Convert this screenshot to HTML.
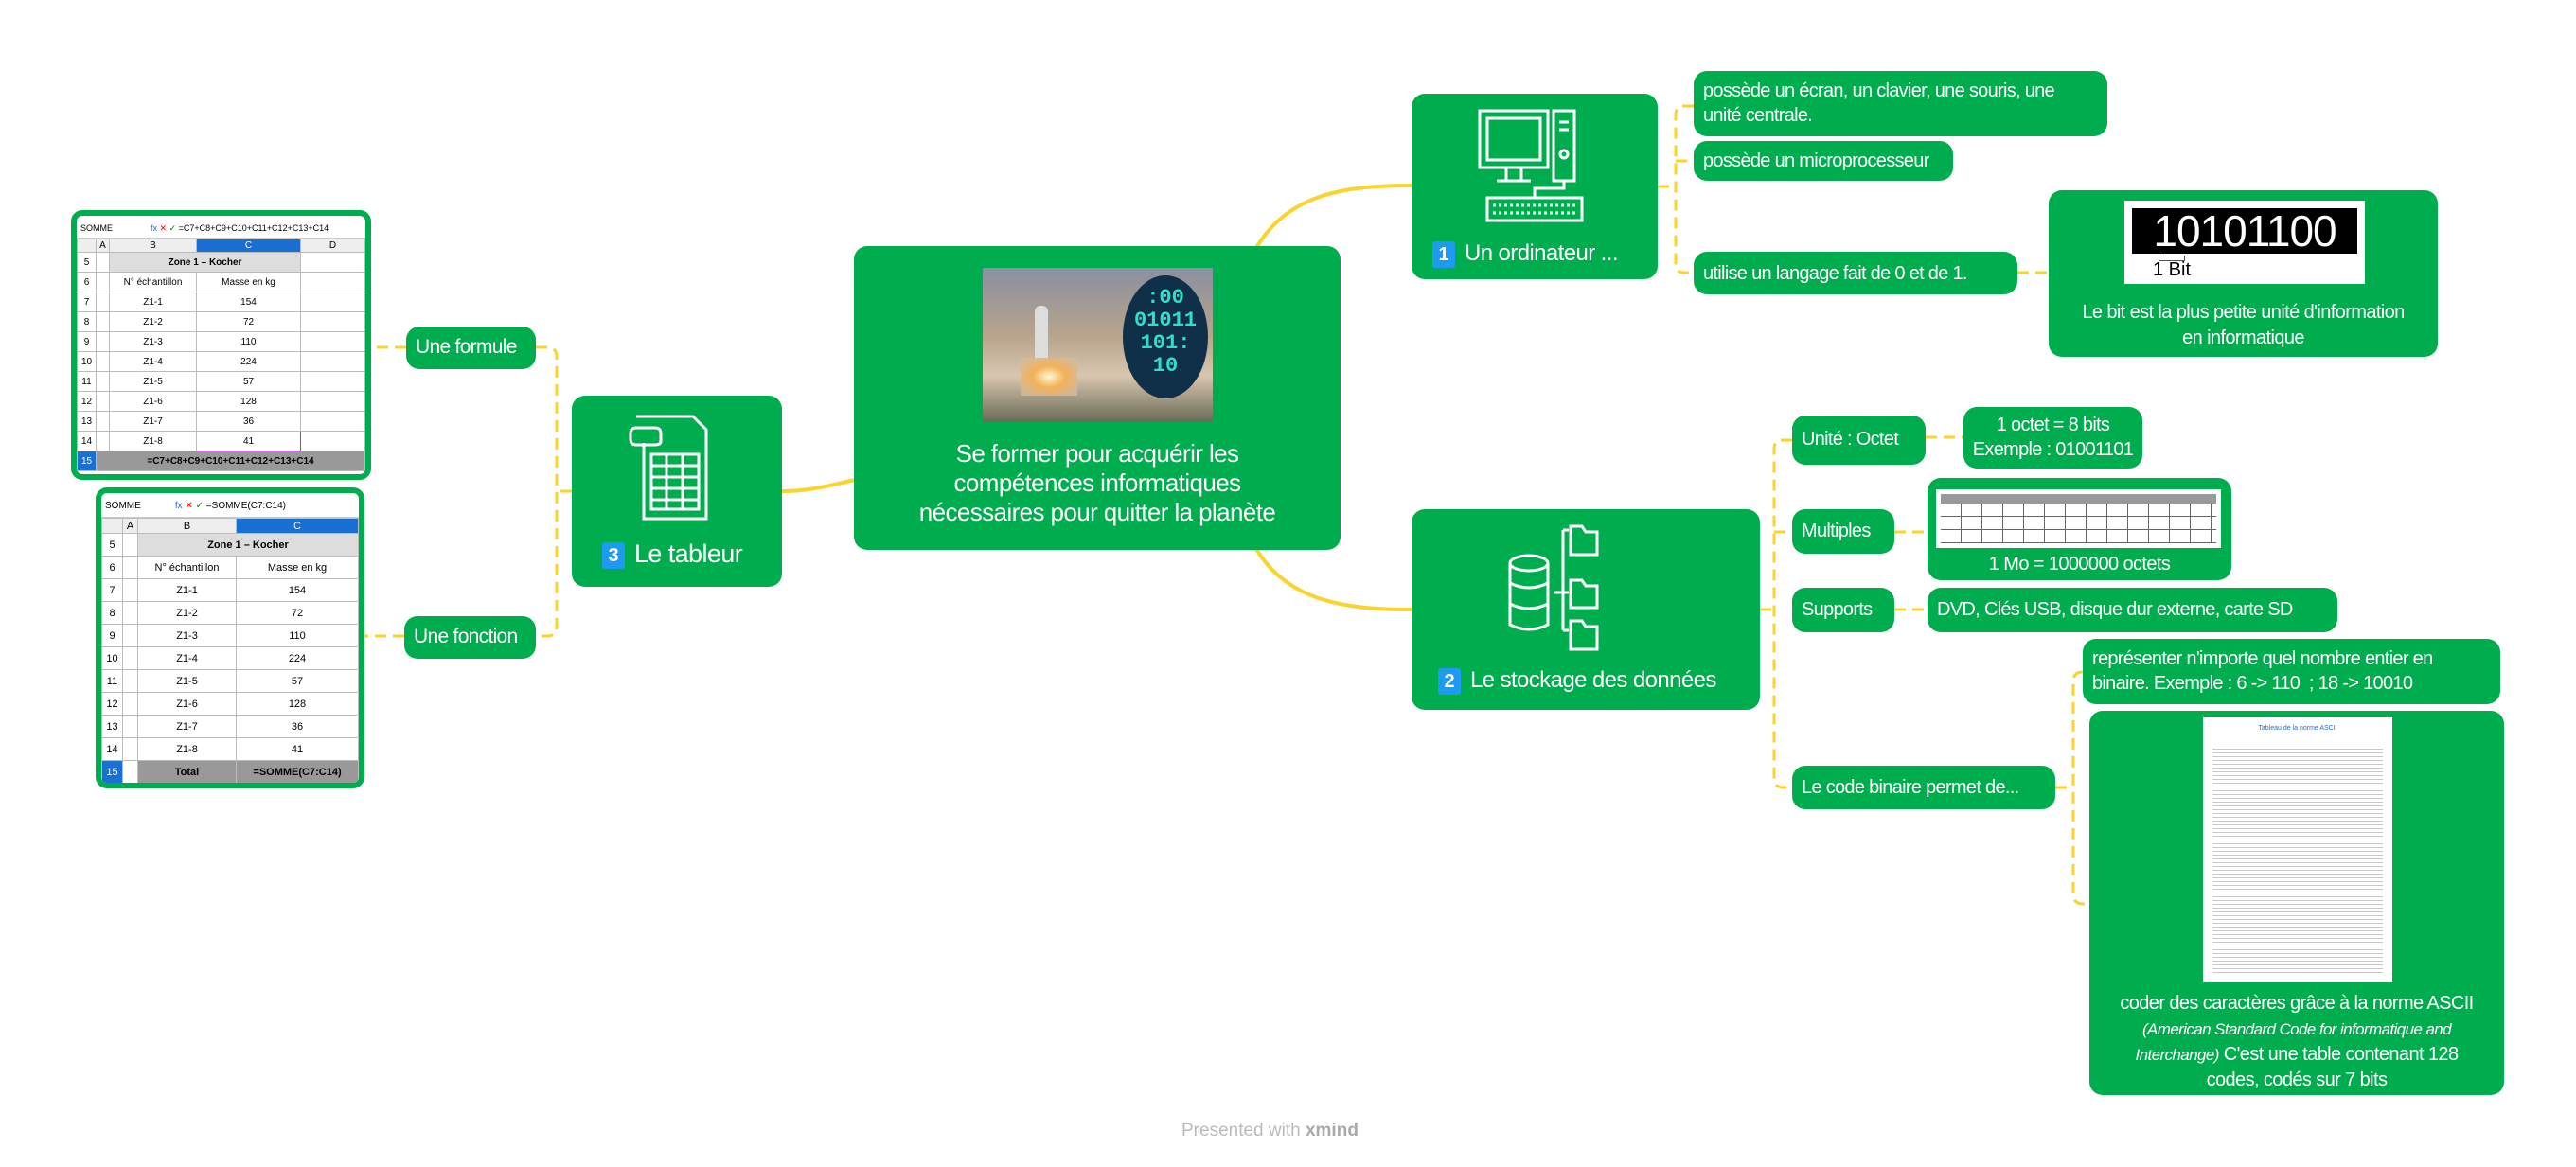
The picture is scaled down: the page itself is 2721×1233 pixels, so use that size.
<!DOCTYPE html>
<html><head><meta charset="utf-8"><style>
*{box-sizing:border-box;margin:0;padding:0}
body{width:2721px;height:1233px;background:#fff;position:relative;overflow:hidden;font-family:"Liberation Sans",sans-serif;}
.n{position:absolute;background:#00ad4e;border-radius:14px;color:#fff;}
.t{font-size:20px;line-height:26px;padding:8px 10px;letter-spacing:-0.7px}
.nw{white-space:nowrap}
.c{text-align:center}
.badge{display:inline-block;background:#1e9bf0;color:#fff;font-size:20px;width:24px;height:28px;line-height:28px;text-align:center;border-radius:3px;margin-right:10px;vertical-align:middle;font-weight:bold;letter-spacing:0}
.ss{position:absolute;border:6px solid #00ad4e;border-radius:12px;background:#fff;overflow:hidden;font-size:11px;color:#000}
.ss table{border-collapse:collapse;width:100%}
.ss td{border:1px solid #bbb;text-align:center;padding:0}
</style></head><body>

<svg width="2721" height="1233" style="position:absolute;left:0;top:0">
<g fill="none" stroke="#fcd32c" stroke-width="4">
<path d="M1327 262 C1360 205,1420 196,1491 196"/>
<path d="M1327 580 C1360 635,1420 644,1491 644"/>
<path d="M902 507 C870 515,850 519,826 519"/>
</g>
<g fill="none" stroke="#fcd32c" stroke-width="3" stroke-dasharray="12 7">
<path d="M1751 197 H1770 M1789 112 H1778 Q1770 112 1770 122 V280 Q1770 288 1780 288 H1789 M1770 170 H1789"/>
<path d="M2131 288 H2164"/>
<path d="M1859 644 H1874 M1893 465 H1882 Q1874 465 1874 475 V822 Q1874 832 1884 832 H1893 M1874 562 H1893"/>
<path d="M2034 462 H2074 M2001 562 H2036 M2001 644 H2036"/>
<path d="M2171 832 H2190 M2200 710 Q2190 710 2190 720 V945 Q2190 955 2200 955 H2207"/>
<path d="M604 519 H588 M566 367 H578 Q588 367 588 377 V662 Q588 672 578 672 H566"/>
<path d="M429 367 H392 M427 672 H385"/>
</g>
</svg>

<!-- central -->
<div class="n" style="left:902px;top:260px;width:514px;height:321px">
 <div style="position:absolute;left:136px;top:23px;width:243px;height:163px;background:linear-gradient(#8a8fa0,#b9a58c 45%,#d9c6b0 70%,#6a6a55);overflow:hidden">
  <div style="position:absolute;left:55px;top:40px;width:14px;height:70px;background:#ddd;border-radius:6px 6px 0 0"></div>
  <div style="position:absolute;left:40px;top:95px;width:60px;height:40px;background:radial-gradient(#fff8d0,#f3b15a 40%,rgba(200,190,180,0.8))"></div>
  <div style="position:absolute;left:148px;top:8px;width:90px;height:130px;border-radius:50%;background:#10304a;color:#2fe0c8;font:bold 22px 'Liberation Mono',monospace;line-height:24px;text-align:center;padding-top:12px">:00<br>01011<br>101:<br>10</div>
 </div>
 <div class="c" style="position:absolute;left:0;top:204px;width:100%;font-size:26px;line-height:31px;letter-spacing:-0.6px">Se former pour acquérir les<br>compétences informatiques<br>nécessaires pour quitter la planète</div>
</div>

<!-- node 1 -->
<div class="n" style="left:1491px;top:99px;width:260px;height:196px">
 <svg width="260" height="196" style="position:absolute;left:0;top:0" fill="none" stroke="#fff" stroke-width="3">
  <rect x="72" y="18" width="72" height="60"/><rect x="80" y="26" width="56" height="44"/>
  <path d="M100 78 V92 M116 78 V92 M90 92 H126"/>
  <rect x="150" y="18" width="22" height="74"/><path d="M156 30 H166 M156 38 H166"/><circle cx="161" cy="64" r="4"/>
  <path d="M161 92 V100 H130 V110"/>
  <rect x="80" y="110" width="100" height="24"/><path d="M86 118 H174 M86 126 H174" stroke-dasharray="3 3"/>
 </svg>
 <div style="position:absolute;left:22px;top:155px;font-size:24px;white-space:nowrap;letter-spacing:-0.6px"><span class="badge">1</span>Un ordinateur ...</div>
</div>
<div class="n t" style="left:1789px;top:75px;width:437px;height:69px;padding-right:24px">possède un écran, un clavier, une souris, une unité centrale.</div>
<div class="n t nw" style="left:1789px;top:149px;width:274px;height:42px">possède un microprocesseur</div>
<div class="n t nw" style="left:1789px;top:266px;width:342px;height:45px;padding-top:10px">utilise un langage fait de 0 et de 1.</div>
<div class="n" style="left:2164px;top:201px;width:411px;height:176px">
 <div style="position:absolute;left:80px;top:11px;width:254px;height:88px;background:#fff">
  <div style="position:absolute;left:8px;top:8px;width:238px;height:48px;background:#000;color:#fff;font:46px/48px 'Liberation Sans',sans-serif;letter-spacing:-1px;text-align:center;white-space:nowrap">10101100</div>
  <div style="position:absolute;left:36px;top:58px;width:28px;height:6px;border:1px solid #555;border-top:none"></div>
  <div style="position:absolute;left:30px;top:62px;font-size:20px;color:#000">1 Bit</div>
 </div>
 <div class="c" style="position:absolute;top:116px;width:100%;font-size:20px;line-height:27px;letter-spacing:-0.6px">Le bit est la plus petite unité d'information<br>en informatique</div>
</div>

<!-- node 2 -->
<div class="n" style="left:1491px;top:538px;width:368px;height:212px">
 <svg width="368" height="212" style="position:absolute;left:0;top:0" fill="none" stroke="#fff" stroke-width="3">
  <ellipse cx="124" cy="57" rx="20" ry="8"/><path d="M104 57 V122 Q124 132 144 122 V57 M104 78 Q124 88 144 78 M104 100 Q124 110 144 100"/>
  <path d="M150 88 H160 M160 22 V128 M160 22 H166 M160 88 H166 M160 128 H166"/>
  <path d="M168 18 H180 L184 24 H196 V48 H168 Z M168 75 H180 L184 81 H196 V104 H168 Z M168 118 H180 L184 124 H196 V148 H168 Z"/>
 </svg>
 <div style="position:absolute;left:28px;top:167px;font-size:24px;white-space:nowrap;letter-spacing:-0.6px"><span class="badge">2</span>Le stockage des données</div>
</div>
<div class="n t nw" style="left:1893px;top:439px;width:141px;height:52px;padding-top:12px">Unité : Octet</div>
<div class="n t c nw" style="left:2074px;top:430px;width:189px;height:65px;padding:6px 4px">1 octet = 8 bits<br>Exemple : 01001101</div>
<div class="n t nw" style="left:1893px;top:538px;width:108px;height:47px;padding-top:10px">Multiples</div>
<div class="n" style="left:2036px;top:505px;width:321px;height:108px">
 <div style="position:absolute;left:9px;top:12px;width:301px;height:62px;background:#fff;padding:5px">
  <div style="height:10px;background:#999"></div>
  <div style="height:42px;background:repeating-linear-gradient(90deg,transparent 0 21px,#666 21px 22px),repeating-linear-gradient(transparent 0 13px,#666 13px 14px)"></div>
 </div>
 <div class="c nw" style="position:absolute;top:80px;width:100%;font-size:20px;letter-spacing:-0.6px">1 Mo = 1000000 octets</div>
</div>
<div class="n t nw" style="left:1893px;top:621px;width:108px;height:47px;padding-top:10px">Supports</div>
<div class="n t nw" style="left:2036px;top:621px;width:433px;height:47px;padding-top:10px">DVD, Clés USB, disque dur externe, carte SD</div>
<div class="n t nw" style="left:1893px;top:809px;width:278px;height:46px;padding-top:10px">Le code binaire permet de...</div>
<div class="n t" style="left:2200px;top:675px;width:441px;height:69px">représenter n'importe quel nombre entier en binaire. Exemple : 6 -&gt; 110 &nbsp;; 18 -&gt; 10010</div>
<div class="n" style="left:2207px;top:751px;width:438px;height:406px">
 <div style="position:absolute;left:120px;top:7px;width:200px;height:280px;background:#fff;">
  <div style="color:#1e6fd0;font-size:7px;text-align:center;margin-top:8px">Tableau de la norme ASCII</div>
  <div style="position:absolute;left:10px;top:30px;width:180px;height:240px;background:repeating-linear-gradient(transparent 0 3px,#9bb 3px 4px);opacity:.7"></div>
 </div>
 <div class="c" style="position:absolute;top:296px;width:100%;font-size:20px;line-height:27px;letter-spacing:-0.6px">coder des caractères grâce à la norme ASCII<br><i style="font-size:17px">(American Standard Code for informatique and<br>Interchange)</i> C'est une table contenant 128<br>codes, codés sur 7 bits</div>
</div>

<!-- node 3 -->
<div class="n" style="left:604px;top:418px;width:222px;height:202px">
 <svg width="222" height="202" style="position:absolute;left:0;top:0" fill="none" stroke="#fff" stroke-width="3">
  <path d="M68 22 H128 L142 36 V130 H76 V50"/><path d="M66 34 H88 Q94 34 94 40 V48 Q94 52 88 52 H68 Q62 52 62 46 V40 Q62 34 68 34"/>
  <rect x="84" y="62" width="50" height="58"/><path d="M84 74 H134 M84 86 H134 M84 98 H134 M84 110 H134 M100 62 V120 M117 62 V120"/>
 </svg>
 <div style="position:absolute;left:32px;top:152px;font-size:27px;white-space:nowrap;letter-spacing:-0.6px"><span class="badge">3</span>Le tableur</div>
</div>
<div class="n t nw" style="left:429px;top:345px;width:137px;height:45px;padding-top:9px;font-size:21px">Une formule</div>
<div class="n t nw" style="left:427px;top:651px;width:139px;height:45px;padding-top:9px;font-size:21px">Une fonction</div>

<!-- spreadsheet 1 -->
<div class="ss" style="left:75px;top:222px;width:317px;height:285px">
 <div style="height:24px;border-bottom:1px solid #ccc;font-size:9px;padding:8px 4px 0;white-space:nowrap">SOMME &nbsp;&nbsp;&nbsp;&nbsp;&nbsp;&nbsp;&nbsp;&nbsp;&nbsp;&nbsp;&nbsp;&nbsp;&nbsp;&nbsp;&nbsp;<span style="color:#36c">fx</span> <span style="color:red">✕</span> <span style="color:green">✓</span> =C7+C8+C9+C10+C11+C12+C13+C14</div>
 <table style="font-size:10px">
  <tr style="height:14px;background:#eee"><td style="width:20px"></td><td style="width:14px">A</td><td style="width:92px">B</td><td style="width:110px;background:#1a6fd3;color:#fff">C</td><td>D</td></tr>
  <tr style="height:21px"><td>5</td><td></td><td colspan="2" style="background:#ddd;font-weight:bold">Zone 1 – Kocher</td><td></td></tr>
  <tr style="height:21px"><td>6</td><td></td><td>N° échantillon</td><td>Masse en kg</td><td></td></tr>
  <tr style="height:21px"><td>7</td><td></td><td>Z1-1</td><td>154</td><td></td></tr>
  <tr style="height:21px"><td>8</td><td></td><td>Z1-2</td><td>72</td><td></td></tr>
  <tr style="height:21px"><td>9</td><td></td><td>Z1-3</td><td>110</td><td></td></tr>
  <tr style="height:21px"><td>10</td><td></td><td>Z1-4</td><td>224</td><td></td></tr>
  <tr style="height:21px"><td>11</td><td></td><td>Z1-5</td><td>57</td><td></td></tr>
  <tr style="height:21px"><td>12</td><td></td><td>Z1-6</td><td>128</td><td></td></tr>
  <tr style="height:21px"><td>13</td><td></td><td>Z1-7</td><td>36</td><td></td></tr>
  <tr style="height:21px"><td>14</td><td></td><td>Z1-8</td><td style="border:1px solid #a3c">41</td><td></td></tr>
  <tr style="height:21px"><td style="background:#1a6fd3;color:#fff">15</td><td colspan="4" style="background:#999;font-weight:bold;text-align:center">=C7+C8+C9+C10+C11+C12+C13+C14</td></tr>
 </table>
</div>

<!-- spreadsheet 2 -->
<div class="ss" style="left:101px;top:515px;width:284px;height:318px">
 <div style="height:26px;border-bottom:1px solid #ccc;font-size:10px;padding:8px 4px 0;white-space:nowrap">SOMME &nbsp;&nbsp;&nbsp;&nbsp;&nbsp;&nbsp;&nbsp;&nbsp;&nbsp;&nbsp;&nbsp;&nbsp;<span style="color:#36c">fx</span> <span style="color:red">✕</span> <span style="color:green">✓</span> =SOMME(C7:C14)</div>
 <table style="font-size:11px">
  <tr style="height:16px;background:#eee"><td style="width:22px">&nbsp;</td><td style="width:16px">A</td><td style="width:104px">B</td><td style="background:#1a6fd3;color:#fff">C</td></tr>
  <tr style="height:24px"><td>5</td><td></td><td colspan="2" style="background:#ddd;font-weight:bold">Zone 1 – Kocher</td></tr>
  <tr style="height:24px"><td>6</td><td></td><td>N° échantillon</td><td>Masse en kg</td></tr>
  <tr style="height:24px"><td>7</td><td></td><td>Z1-1</td><td>154</td></tr>
  <tr style="height:24px"><td>8</td><td></td><td>Z1-2</td><td>72</td></tr>
  <tr style="height:24px"><td>9</td><td></td><td>Z1-3</td><td>110</td></tr>
  <tr style="height:24px"><td>10</td><td></td><td>Z1-4</td><td>224</td></tr>
  <tr style="height:24px"><td>11</td><td></td><td>Z1-5</td><td>57</td></tr>
  <tr style="height:24px"><td>12</td><td></td><td>Z1-6</td><td>128</td></tr>
  <tr style="height:24px"><td>13</td><td></td><td>Z1-7</td><td>36</td></tr>
  <tr style="height:24px"><td>14</td><td></td><td>Z1-8</td><td>41</td></tr>
  <tr style="height:24px"><td style="background:#1a6fd3;color:#fff">15</td><td></td><td style="background:#999;font-weight:bold">Total</td><td style="background:#999;font-weight:bold;white-space:nowrap">=SOMME(C7:C14)</td></tr>
 </table>
</div>

<div style="position:absolute;left:1248px;top:1184px;font-size:19px;color:#bbb">Presented with <b style="color:#aaa">xmind</b></div>
</body></html>
